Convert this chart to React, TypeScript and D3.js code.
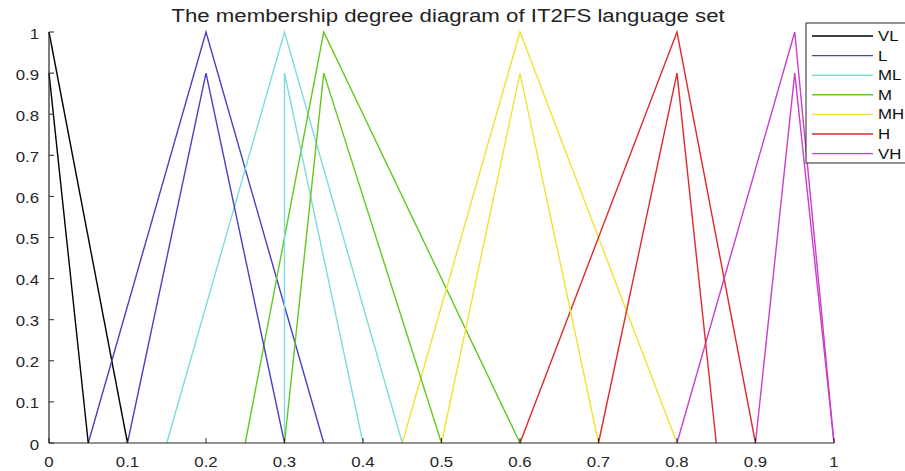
import React from "react";
import * as d3 from "d3";

const labels = ["VL", "L", "ML", "M", "MH", "H", "VH"];
const colors = ["#000000", "#4b3fc4", "#7fdcdc", "#63c91e", "#f2e234", "#de2a2a", "#cc3dcc"];
// upper membership functions [x, y]
const upper: [number, number][][] = [
  [[0, 1], [0.1, 0]],
  [[0.05, 0], [0.2, 1], [0.35, 0]],
  [[0.15, 0], [0.3, 1], [0.45, 0]],
  [[0.25, 0], [0.35, 1], [0.6, 0]],
  [[0.45, 0], [0.6, 1], [0.8, 0]],
  [[0.6, 0], [0.8, 1], [0.9, 0]],
  [[0.8, 0], [0.95, 1], [1, 0]],
];
// lower membership functions
const lower: [number, number][][] = [
  [[0, 0.9], [0.05, 0]],
  [[0.1, 0], [0.2, 0.9], [0.3, 0]],
  [[0.3, 0], [0.3, 0.9], [0.4, 0]],
  [[0.3, 0], [0.35, 0.9], [0.5, 0]],
  [[0.5, 0], [0.6, 0.9], [0.7, 0]],
  [[0.7, 0], [0.8, 0.9], [0.85, 0]],
  [[0.9, 0], [0.95, 0.9], [1, 0]],
];
const xTicks = [0, 0.1, 0.2, 0.3, 0.4, 0.5, 0.6, 0.7, 0.8, 0.9, 1];
const yTicks = [0, 0.1, 0.2, 0.3, 0.4, 0.5, 0.6, 0.7, 0.8, 0.9, 1];
const title = "The membership degree diagram of IT2FS language set";

export default function App() {
  const W = 905, H = 471;
  const x = d3.scaleLinear().domain([0, 1]).range([49, 834]);
  const y = d3.scaleLinear().domain([0, 1]).range([443, 32]);
  const line = d3.line<[number, number]>().x(d => x(d[0])).y(d => y(d[1]));
  const font = "'Liberation Sans', Arial, sans-serif";
  const legX = 806, legY = 23, legW = 100, legH = 140;
  const sx = 1.2;
  return (
    <svg width={W} height={H} style={{ position: "absolute", left: 0, top: 0, background: "#fff" }} fontFamily={font}>
      <rect x={0} y={0} width={W} height={H} fill="#fff" />
      <text transform={`translate(448,22) scale(1.27,1)`} textAnchor="middle" fontSize={17.5} fill="#222">{title}</text>
      {upper.map((pts, i) => (
        <path key={"u" + i} d={line(pts) || ""} fill="none" stroke={colors[i]} strokeWidth={1.4} />
      ))}
      {lower.map((pts, i) => (
        <path key={"l" + i} d={line(pts) || ""} fill="none" stroke={colors[i]} strokeWidth={1.4} />
      ))}
      {/* axes */}
      <line x1={x(0)} x2={x(1)} y1={y(0)} y2={y(0)} stroke="#262626" strokeWidth={1.2} />
      <line x1={x(0)} x2={x(0)} y1={y(0)} y2={y(1)} stroke="#262626" strokeWidth={1.2} />
      {xTicks.map(t => (
        <g key={"x" + t}>
          <line x1={x(t)} x2={x(t)} y1={y(0)} y2={y(0) - 5} stroke="#262626" />
          <text transform={`translate(${x(t)},${y(0) + 24}) scale(${sx},1)`} textAnchor="middle" fontSize={14} fill="#262626">{String(t)}</text>
        </g>
      ))}
      {yTicks.map(t => (
        <g key={"y" + t}>
          <line x1={x(0)} x2={x(0) + 5} y1={y(t)} y2={y(t)} stroke="#262626" />
          <text transform={`translate(${x(0) - 10},${y(t) + 6.5}) scale(${sx},1)`} textAnchor="end" fontSize={14} fill="#262626">{String(t)}</text>
        </g>
      ))}
      {/* legend */}
      <rect x={legX} y={legY} width={legW} height={legH} fill="#fff" stroke="#262626" strokeWidth={1} />
      {labels.map((lab, i) => {
        const ly = legY + 13 + i * 19.6;
        return (
          <g key={lab}>
            <line x1={812} x2={873} y1={ly} y2={ly} stroke={colors[i]} strokeWidth={1.4} />
            <text transform={`translate(878,${ly + 5}) scale(${sx},1)`} fontSize={14} fill="#111">{lab}</text>
          </g>
        );
      })}
    </svg>
  );
}
